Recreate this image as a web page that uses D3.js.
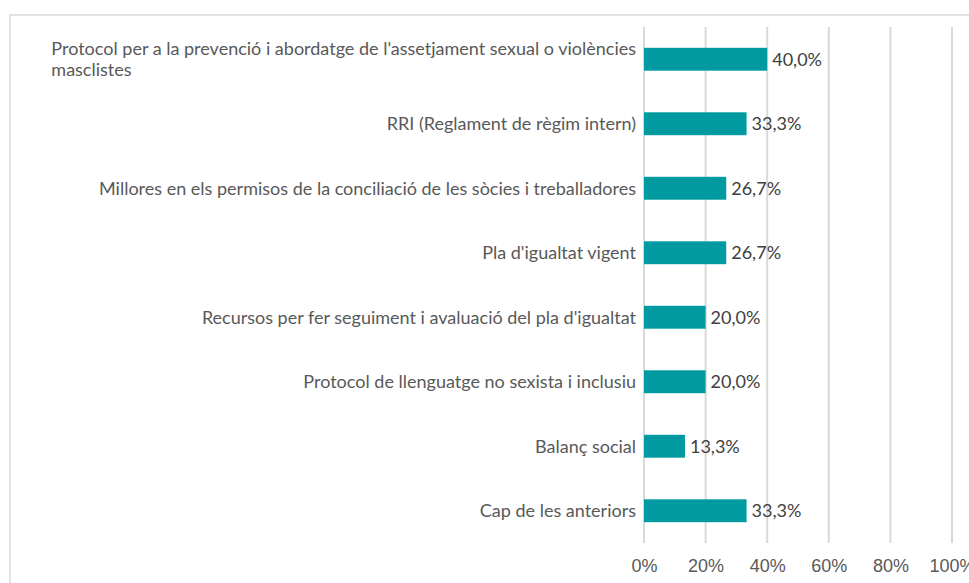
<!DOCTYPE html>
<html>
<head>
<meta charset="utf-8">
<script src="https://cdn.jsdelivr.net/npm/d3@7"></script>
<style>
  body { margin: 0; background: #fff; }
  svg { display: block; font-family: Lato, "Open Sans", sans-serif; }
  .grid line { stroke: #d9d9d9; stroke-width: 2; }
  .axis-x text { fill: #595959; font-size: 18px; }
  .cat { fill: #595959; font-size: 18px; }
  .val { fill: #404040; font-size: 18px; }
</style>
</head>
<body>
<svg id="chart"></svg>
<script>
// Dades
var categories = [
  "Protocol per a la prevenció i abordatge de l'assetjament sexual o violències masclistes",
  "RRI (Reglament de règim intern)",
  "Millores en els permisos de la conciliació de les sòcies i treballadores",
  "Pla d'igualtat vigent",
  "Recursos per fer seguiment i avaluació del pla d'igualtat",
  "Protocol de llenguatge no sexista i inclusiu",
  "Balanç social",
  "Cap de les anteriors"
];
var values = [40.0, 33.3, 26.7, 26.7, 20.0, 20.0, 13.3, 33.3];
var ticks = [0, 20, 40, 60, 80, 100];
// línies del primer rètol (Excel el parteix en dues)
var firstLabelLines = [
  "Protocol per a la prevenció i abordatge de l'assetjament sexual o violències",
  "masclistes"
];

var W = 969, H = 583;
var margin = { top: 27, right: 17, bottom: 40, left: 644 };
var width = W - margin.left - margin.right;
var height = H - margin.top - margin.bottom;

var svg = d3.select('#chart').attr('width', W).attr('height', H);

// marc
svg.append('rect')
  .attr('x', 10).attr('y', 15)
  .attr('width', W).attr('height', H)
  .attr('fill', 'none').attr('stroke', '#d9d9d9').attr('stroke-width', 1.5);

var g = svg.append('g').attr('transform', 'translate(' + margin.left + ',' + margin.top + ')');

var x = d3.scaleLinear().domain([0, 100]).range([0, width]);
var y = d3.scaleBand().domain(categories).range([0, height]).paddingInner(0.645).paddingOuter(0.3225);

// graella
g.append('g').attr('class', 'grid')
  .selectAll('line').data(ticks).enter().append('line')
  .attr('x1', function (d) { return x(d); })
  .attr('x2', function (d) { return x(d); })
  .attr('y1', 0).attr('y2', height);

// eix X
var axisX = d3.axisBottom(x).tickValues(ticks).tickSize(0).tickPadding(16)
  .tickFormat(function (d) { return d + '%'; });
g.append('g').attr('class', 'axis-x')
  .attr('transform', 'translate(0,' + height + ')')
  .call(axisX)
  .call(function (s) { s.select('.domain').remove(); });

// barres
g.selectAll('.bar').data(values).enter().append('rect')
  .attr('class', 'bar')
  .attr('x', x(0))
  .attr('y', function (d, i) { return y(categories[i]); })
  .attr('width', function (d) { return x(d) - x(0); })
  .attr('height', y.bandwidth())
  .attr('fill', '#009aa0');

// valors
g.selectAll('.val').data(values).enter().append('text')
  .attr('class', 'val')
  .attr('x', function (d) { return x(d) + 5; })
  .attr('y', function (d, i) { return y(categories[i]) + y.bandwidth() / 2; })
  .attr('dy', '0.35em')
  .text(function (d) { return d.toFixed(1).replace('.', ',') + '%'; });

// rètols de categoria
categories.forEach(function (c, i) {
  var cy = y(c) + y.bandwidth() / 2;
  if (i === 0) {
    var t = g.append('text').attr('class', 'cat');
    var lines = firstLabelLines;
    // amplada de la línia llarga per alinear a l'esquerra
    var tmp = g.append('text').attr('class', 'cat').text(lines[0]);
    var w0 = tmp.node().getComputedTextLength();
    tmp.remove();
    lines.forEach(function (l, k) {
      t.append('tspan')
        .attr('x', -8 - w0)
        .attr('y', cy + (k - 0.5) * 21)
        .attr('dy', '0.35em')
        .text(l);
    });
  } else {
    g.append('text').attr('class', 'cat')
      .attr('x', -8).attr('y', cy).attr('dy', '0.35em')
      .attr('text-anchor', 'end')
      .text(c);
  }
});
</script>
</body>
</html>
